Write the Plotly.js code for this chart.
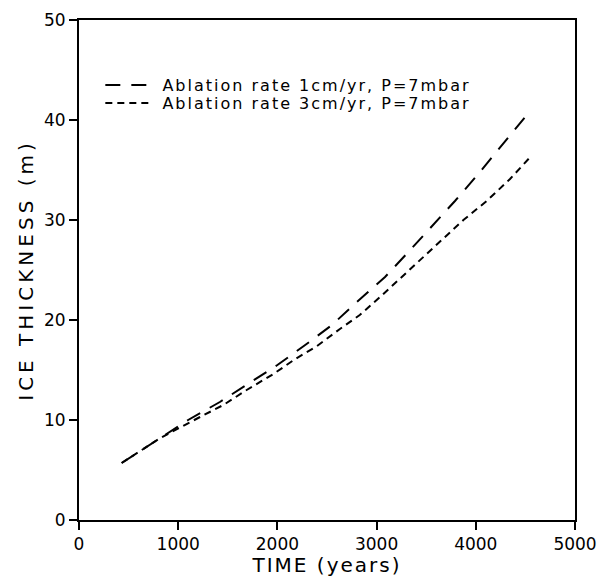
<!DOCTYPE html>
<html>
<head>
<meta charset="utf-8">
<script src="https://cdn.plot.ly/plotly-3.0.1.min.js"></script>
<style>
  html, body { margin: 0; padding: 0; background: #fff; }
  #chart { width: 605px; height: 577px; }
  .main-svg text.legendtext, .main-svg g[class^="legend"] text { letter-spacing: 2px !important; }
  .main-svg g[class^="legend"], .main-svg g[class^="legend"] * { clip-path: none !important; }
  .xtitle { letter-spacing: 2px; }
  .ytitle { letter-spacing: 4px; }
</style>
</head>
<body>
<div id="chart"></div>
<script>
// Series 1: Ablation rate 1cm/yr, P=7mbar (long dashes)
const time1 = [430, 800, 1100, 1420, 1700, 2000, 2280, 2550, 2800, 3085, 3320, 3555, 3790, 4025, 4260, 4530];
const ice1  = [5.7, 8.1, 10.0, 11.8, 13.6, 15.5, 17.5, 19.5, 21.8, 24.3, 26.8, 29.3, 31.9, 34.6, 37.4, 40.7];

// Series 2: Ablation rate 3cm/yr, P=7mbar (short dashes)
const time2 = [430, 820, 1220, 1455, 1690, 1960, 2180, 2400, 2630, 2830, 3035, 3200, 3440, 3640, 3875, 4110, 4345, 4540];
const ice2  = [5.7, 8.2, 10.3, 11.5, 13.0, 14.6, 16.1, 17.4, 19.1, 20.5, 22.3, 23.8, 26.0, 27.9, 30.0, 31.9, 34.1, 36.2];

const seriesNames = ["\u00a0Ablation rate 1cm/yr, P=7mbar", "\u00a0Ablation rate 3cm/yr, P=7mbar"];
const xTicks = [0, 1000, 2000, 3000, 4000, 5000];
const yTicks = [0, 10, 20, 30, 40, 50];

const traces = [
  { x: time1, y: ice1, name: seriesNames[0], mode: "lines", legend: "legend",
    line: { color: "#000", width: 2, dash: "15px,11px" } },
  { x: time2, y: ice2, name: seriesNames[1], mode: "lines", legend: "legend2",
    line: { color: "#000", width: 2, dash: "7px,5px" } }
];

const font = "DejaVu Sans, sans-serif";
function makeLegend(y) {
  return {
    x: 0.043, y: y, xanchor: "left", yanchor: "middle",
    bgcolor: "rgba(0,0,0,0)", borderwidth: 0,
    font: { family: font, size: 16, color: "#000" },
    itemwidth: 45
  };
}
const layout = {
  width: 605, height: 577,
  margin: { l: 79, r: 30, t: 20, b: 57 },
  paper_bgcolor: "#fff", plot_bgcolor: "#fff",
  showlegend: true,
  legend: makeLegend(0.87),
  legend2: makeLegend(0.834),
  xaxis: {
    range: [0, 5000], tickvals: xTicks, ticktext: xTicks.map(String),
    showgrid: false, zeroline: false,
    showline: true, linecolor: "#000", linewidth: 2, mirror: true,
    ticks: "outside", ticklen: 8, tickwidth: 2, tickcolor: "#000",
    tickfont: { family: font, size: 17, color: "#000" },
    title: { text: "TIME (years)", font: { family: font, size: 20, color: "#000" }, standoff: 2 },
    automargin: false
  },
  yaxis: {
    range: [0, 50], tickvals: yTicks, ticktext: yTicks.map(String),
    showgrid: false, zeroline: false,
    showline: true, linecolor: "#000", linewidth: 2, mirror: true,
    ticks: "outside", ticklen: 8, tickwidth: 2, tickcolor: "#000",
    tickfont: { family: font, size: 17, color: "#000" },
    title: { text: "ICE THICKNESS (m)", font: { family: font, size: 20, color: "#000" }, standoff: 5 },
    automargin: false
  }
};

Plotly.newPlot("chart", traces, layout, { displayModeBar: false, staticPlot: true });
</script>
</body>
</html>
